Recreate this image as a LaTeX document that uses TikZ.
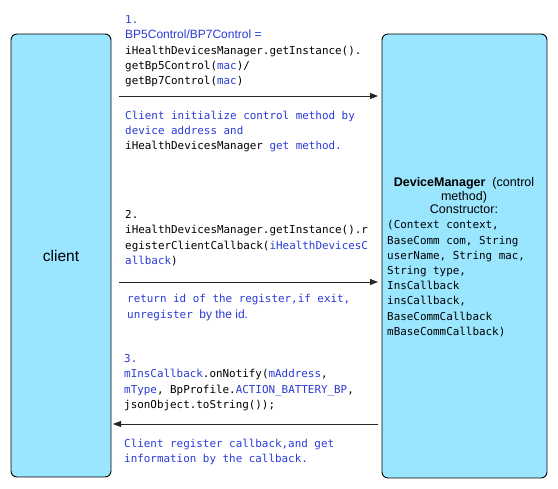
\documentclass[tikz,border=0pt]{standalone}
\usepackage{fontspec}
\setmainfont{Liberation Sans}
\newfontfamily\monof{DejaVu Sans Mono}
\usetikzlibrary{arrows.meta}
\definecolor{boxfill}{HTML}{9AE6FF}
\definecolor{tblue}{HTML}{2B3BD6}
\newcommand{\bl}[1]{\textcolor{tblue}{#1}}
\newcommand{\sfb}[1]{{\fontsize{12}{15}\selectfont\rmfamily\textcolor{tblue}{#1}}}
\begin{document}
\begin{tikzpicture}[x=1pt,y=-1pt,
  lane/.style={draw=black,line width=0.9pt,fill=boxfill,rounded corners=6pt},
  msgtext/.style={anchor=north west,inner sep=0pt,align=left,
     font=\monof\fontsize{10.9}{15.2}\selectfont},
  msg/.style={draw=black!85,line width=0.9pt,-{Triangle[length=8pt,width=6pt]}}]
\useasboundingbox (0,0) rectangle (558,489);
\fill[white] (0,0) rectangle (558,489);
% lanes
\draw[lane] (11,34) rectangle (111,477);
\node (client) at (61,256) {\fontsize{15.5}{18}\selectfont client};
\draw[lane] (382,34) rectangle (547,478);
\coordinate (dmtop) at (464,177.5);
\node[anchor=north,inner sep=0pt,align=center,font=\fontsize{12.5}{13.5}\selectfont] (dmtitle) at (dmtop)
  {\textbf{DeviceManager} \ (control\\ method)\\ Constructor:};
\node[msgtext] (dmargs) at (387,220.5)
  {(Context context,\\BaseComm com, String\\userName, String mac,\\String type,\\InsCallback\\insCallback,\\BaseCommCallback\\mBaseCommCallback)};
% coordinates for connectors
\coordinate (a1s) at (119,96);  \coordinate (a1e) at (378,96);
\coordinate (a2s) at (119,282); \coordinate (a2e) at (378,282);
\coordinate (a3s) at (378,424); \coordinate (a3e) at (113,424);
\draw[msg] (a1s) -- (a1e);
\draw[msg] (a2s) -- (a2e);
\draw[msg] (a3s) -- (a3e);
% texts
\node[msgtext] (t1) at (125,15.5)
  {\bl{1.}\\\sfb{BP5Control/BP7Control =}\\iHealthDevicesManager.getInstance().\\getBp5Control(\bl{mac})/\\getBp7Control(\bl{mac})};
\node[msgtext] (t1b) at (125,110.5)
  {\bl{Client initialize control method by}\\\bl{device address and}\\iHealthDevicesManager \bl{get method.}};
\node[msgtext] (t2) at (125,210.5)
  {2.\\iHealthDevicesManager.getInstance().r\\egisterClientCallback(\bl{iHealthDevicesC}\\\bl{allback})};
\node[msgtext] (t2b) at (127,294.5)
  {\bl{return id of the register,if exit,}\\\bl{unregister} \sfb{by the id.}};
\node[msgtext] (t3) at (124,354.5)
  {\bl{3.}\\\bl{mInsCallback}.onNotify(\bl{mAddress},\\\bl{mType}, BpProfile.\bl{ACTION\_BATTERY\_BP},\\jsonObject.toString());};
\node[msgtext] (t3b) at (124,438.5)
  {\bl{Client register callback,and get}\\\bl{information by the callback.}};
\end{tikzpicture}
\end{document}
